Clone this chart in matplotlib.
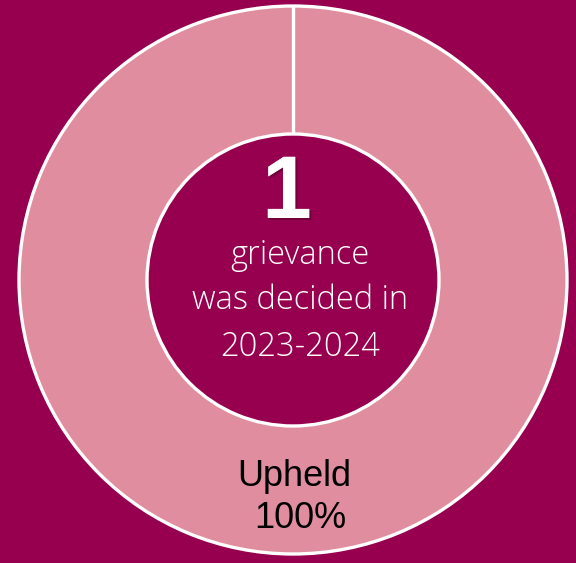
import matplotlib
matplotlib.use('Agg')
import matplotlib.pyplot as plt
import matplotlib.patheffects as pe

# dane
labels = ['Upheld']
values = [1]
percents = [100]
total_text = '1'
caption = ['grievance', 'was decided in', '2023-2024']

bg = '#97004E'
pink = '#E08E9F'

fig = plt.figure(figsize=(5.76, 5.63), dpi=100, facecolor=bg)
ax = fig.add_axes([0, 0, 1, 1], facecolor=bg)

cx, cy = 293, 280
r_out, r_in = 274, 146

wedges, _ = ax.pie(values, colors=[pink], startangle=90, counterclock=False,
                   radius=r_out, center=(cx, cy),
                   wedgeprops=dict(width=r_out - r_in, edgecolor='white', linewidth=2.4))

# szew na gorze (pelny klin nie rysuje krawedzi promieniowej)
ax.plot([cx, cx], [cy - r_in, cy - r_out], color='white', lw=2.4, solid_capstyle='butt')

ax.set_xlim(0, 576)
ax.set_ylim(563, 0)
ax.set_aspect('auto')
ax.axis('off')

shadow = [pe.withSimplePatchShadow(offset=(1.5, -1.5), shadow_rgbFace='#5a0030', alpha=0.6), pe.Normal()]
ax.text(287, 195, total_text, color='white', fontsize=64, fontweight='heavy',
        family=['Liberation Sans', 'DejaVu Sans'], ha='center', va='center',
        path_effects=shadow)

for line, y in zip(caption, [255, 300, 347]):
    ax.text(300, y, line, color='white', fontsize=23.5, fontweight='light',
            family=['Open Sans', 'Noto Sans', 'DejaVu Sans'], ha='center', va='center')

ax.text(294, 476, labels[0], color='black', fontsize=26, family='Liberation Sans',
        ha='center', va='center')
ax.text(300, 518, f'{percents[0]}%', color='black', fontsize=26, family='Liberation Sans',
        ha='center', va='center')

fig.savefig('out.png', dpi=100, facecolor=bg)
